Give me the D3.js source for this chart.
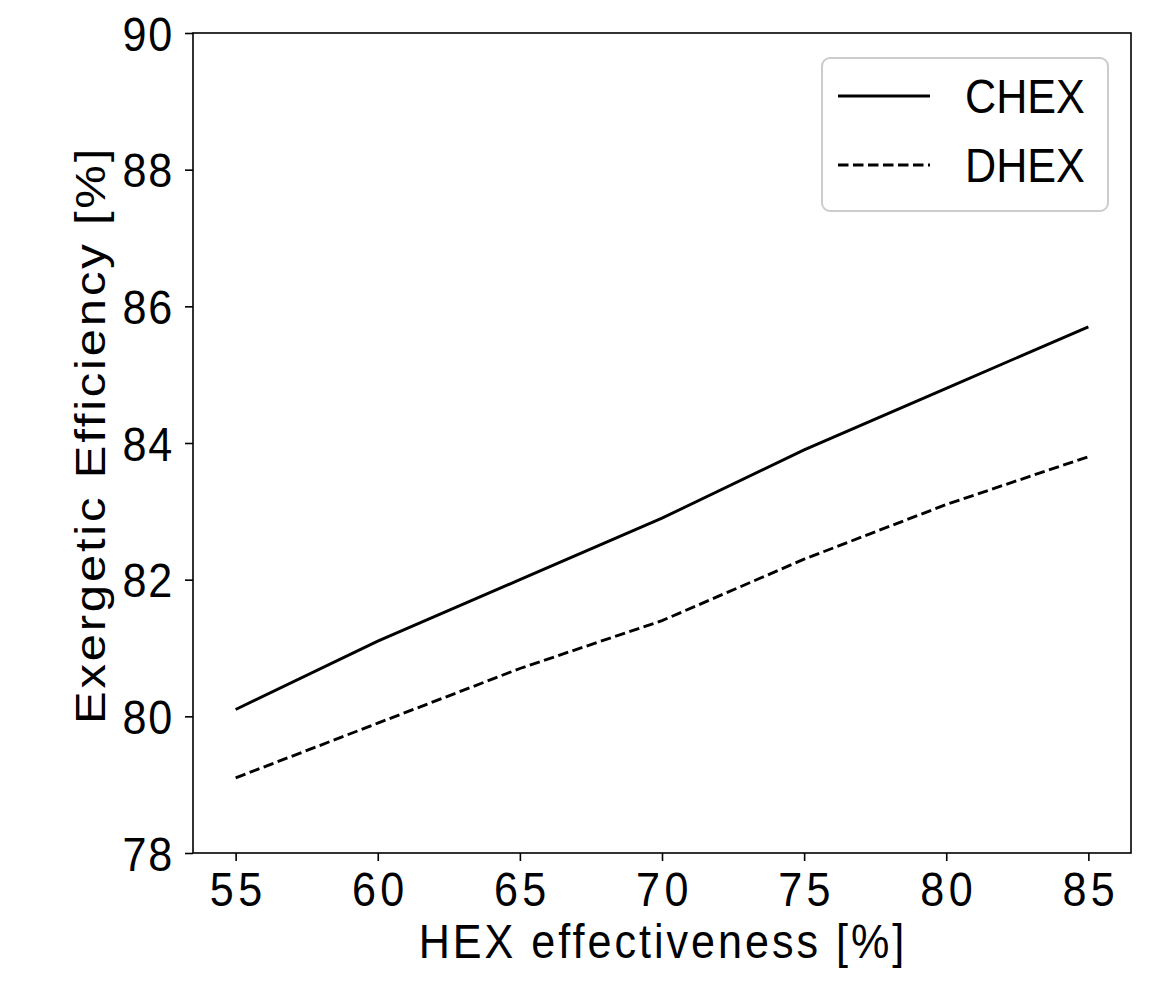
<!DOCTYPE html>
<html><head><meta charset="utf-8">
<script src="https://cdn.jsdelivr.net/npm/d3@7"></script>
<style>body{margin:0;background:#fff}svg{display:block}text{font-family:"Liberation Sans",Arial,sans-serif;fill:#000}</style>
</head><body>
<script>
const xValues = [55, 60, 65, 70, 75, 80, 85];
const chex = [80.1, 81.1, 82.0, 82.9, 83.9, 84.8, 85.7];
const dhex = [79.1, 79.9, 80.7, 81.4, 82.3, 83.1, 83.8];
const xTicks = [55, 60, 65, 70, 75, 80, 85];
const yTicks = [78, 80, 82, 84, 86, 88, 90];
const seriesNames = ["CHEX", "DHEX"];

const W = 1167, H = 988;
const L = 193, R = 1131, T = 33, B = 853;
const FS = 49, SX = 0.88;

const svg = d3.select("body").append("svg").attr("width", W).attr("height", H);
const x = d3.scaleLinear().domain([53.5, 86.5]).range([L, R]);
const y = d3.scaleLinear().domain([78, 90]).range([B, T]);

// lines
const line = d3.line().x((d, i) => x(xValues[i])).y(d => y(d));
svg.append("path").datum(chex).attr("d", line).attr("fill", "none")
  .attr("stroke", "#000").attr("stroke-width", 2.9);
svg.append("path").datum(dhex).attr("d", line).attr("fill", "none")
  .attr("stroke", "#000").attr("stroke-width", 2.9).attr("stroke-dasharray", "10.5,4.5");

// frame
svg.append("rect").attr("x", L).attr("y", T).attr("width", R - L).attr("height", B - T)
  .attr("fill", "none").attr("stroke", "#000").attr("stroke-width", 1.6);

// x axis
const xa = svg.append("g").attr("transform", `translate(0,${B})`)
  .call(d3.axisBottom(x).tickValues(xTicks).tickSize(8).tickPadding(0).tickFormat(d3.format("d")));
xa.select(".domain").remove();
xa.selectAll("line").attr("stroke-width", 1.6);
xa.selectAll("text").attr("font-size", FS).attr("dy", null).attr("y", null)
  .attr("text-anchor", "middle").attr("letter-spacing", 5)
  .attr("transform", `translate(2,53) scale(${SX},1)`);

// y axis
const ya = svg.append("g").attr("transform", `translate(${L},0)`)
  .call(d3.axisLeft(y).tickValues(yTicks).tickSize(8).tickPadding(0).tickFormat(d3.format("d")));
ya.select(".domain").remove();
ya.selectAll("line").attr("stroke-width", 1.6);
ya.selectAll("text").attr("font-size", FS).attr("dy", null).attr("x", null)
  .attr("text-anchor", "end").attr("letter-spacing", 2)
  .attr("transform", `translate(-19,17) scale(${SX},1)`);

// axis labels
svg.append("text").attr("text-anchor", "middle").attr("font-size", FS).attr("letter-spacing", 3.4)
  .attr("transform", `translate(${(L + R) / 2 + 1},958) scale(${SX},1)`)
  .text("HEX effectiveness [%]");
svg.append("text").attr("text-anchor", "middle").attr("font-size", FS).attr("letter-spacing", 2.8)
  .attr("transform", `translate(105,435) scale(${SX},1) rotate(-90)`)
  .text("Exergetic Efficiency [%]");

// legend
const lg = svg.append("g");
lg.append("rect").attr("x", 822).attr("y", 58).attr("width", 286).attr("height", 153)
  .attr("rx", 8).attr("fill", "#fff").attr("stroke", "#cccccc").attr("stroke-width", 2);
const dashes = [null, "10.5,4.5"];
seriesNames.forEach((n, i) => {
  const yy = 96 + i * 69;
  lg.append("line").attr("x1", 838).attr("x2", 930).attr("y1", yy).attr("y2", yy)
    .attr("stroke", "#000").attr("stroke-width", 2.9).attr("stroke-dasharray", dashes[i]);
  lg.append("text").attr("font-size", FS)
    .attr("transform", `translate(965,${yy + 17}) scale(${SX},1)`).text(n);
});
</script>
</body></html>
